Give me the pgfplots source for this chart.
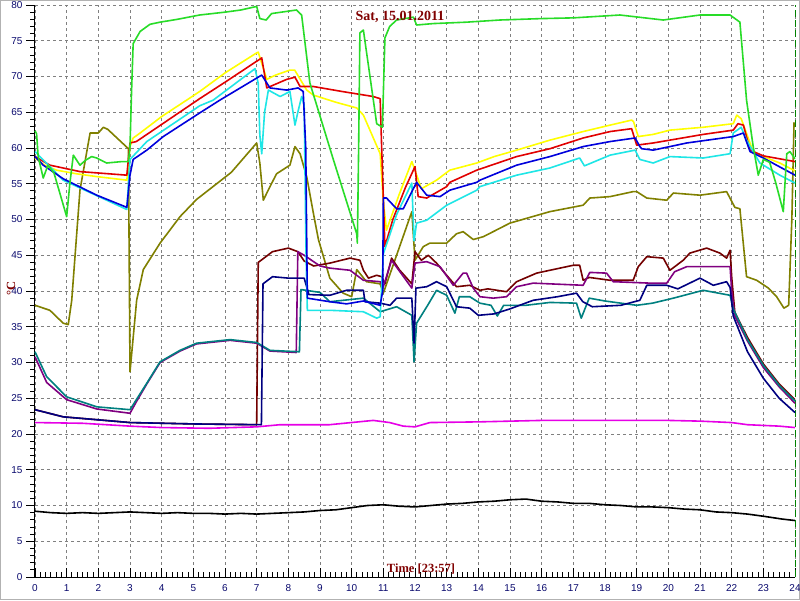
\documentclass[border=0pt]{standalone}
\usepackage{fontspec}
\setmainfont{Liberation Sans}
\newfontfamily\tfont{Liberation Serif}
\usepackage{pgfplots}
\pgfplotsset{compat=1.18}
\definecolor{cLime}{RGB}{40,220,40}
\definecolor{cYellow}{RGB}{255,255,0}
\definecolor{cRed}{RGB}{225,0,0}
\definecolor{cBlue}{RGB}{0,0,220}
\definecolor{cCyan}{RGB}{30,230,230}
\definecolor{cOlive}{RGB}{128,128,0}
\definecolor{cMaroon}{RGB}{115,0,0}
\definecolor{cPurple}{RGB}{128,0,128}
\definecolor{cNavy}{RGB}{0,0,128}
\definecolor{cTeal}{RGB}{0,128,128}
\definecolor{cMagenta}{RGB}{230,0,230}
\definecolor{darkred}{RGB}{128,0,0}
\definecolor{tickblue}{RGB}{10,10,110}
\definecolor{dgreen}{RGB}{0,128,0}
\begin{document}
\begin{tikzpicture}
\fill[white] (0,0) rectangle (800pt,600pt);
\useasboundingbox (0,0) rectangle (800pt,600pt);
\draw[gray!60, line width=1pt] (0.5pt,0.5pt) rectangle (799.5pt,599.5pt);
\begin{axis}[
  at={(35pt,23pt)}, anchor=south west,
  scale only axis, width=760pt, height=572pt,
  xmin=0, xmax=24, ymin=0, ymax=80,
  axis x line=bottom, axis y line=left,
  axis line style={-, black, line width=1pt},
  xtick distance=1, ytick distance=5,
  minor x tick num=5, minor y tick num=4,
  xtick align=inside, ytick align=outside,
  major tick length=9pt, minor tick length=5pt,
  tick style={black, line width=0.9pt},
  grid=major,
  major grid style={dash pattern=on 3pt off 3pt, gray, line width=0.8pt},
  tick label style={font=\fontsize{10}{12}\selectfont, text=tickblue},
  xticklabel style={yshift=-4pt},
  /pgf/number format/assume math mode=true,
  clip=false,
  every axis plot/.append style={line width=1.6pt, line join=round, mark=none},
]
% dashed current-time marker
\addplot[dgreen, line width=1pt, dash pattern=on 7pt off 3pt] coordinates {(24,0) (24,80)};
% magenta
\addplot[cMagenta] coordinates {(0,21.6) (1.5,21.5) (3.0,21.1) (4.0,20.9) (5.5,20.8) (7.0,21.0) (7.74,21.3) (9.3,21.3) (10.68,21.9) (11.2,21.6) (11.63,21.1) (12.0,21.0) (12.47,21.6) (14.05,21.7) (16,21.9) (18,21.9) (20,21.9) (21,21.8) (22,21.6) (22.5,21.3) (23.5,21.1) (24,20.9)};
% black
\addplot[black] coordinates {(0,9.2) (0.5,9.0) (1,8.9) (1.5,9.0) (2,8.9) (2.5,9.0) (3,9.1) (3.5,9.0) (4,8.9) (4.5,9.0) (5,8.9) (5.5,8.9) (6,8.8) (6.5,8.9) (7,8.8) (7.5,8.9) (8,9.0) (8.5,9.1) (9,9.3) (9.5,9.4) (10,9.7) (10.5,10.0) (11,10.1) (11.5,9.9) (12,9.8) (12.5,10.0) (13,10.2) (13.5,10.3) (14,10.5) (14.5,10.6) (15,10.8) (15.5,10.9) (16,10.6) (16.5,10.5) (17,10.3) (17.5,10.3) (18,10.1) (18.5,10.0) (19,9.8) (19.5,9.8) (20,9.7) (20.5,9.5) (21,9.4) (21.5,9.1) (22,9.0) (22.5,8.8) (23,8.5) (23.3,8.3) (23.6,8.1) (24,7.9)};
% olive
\addplot[cOlive] coordinates {(0,38.0) (0.47,37.3) (0.89,35.5) (1.05,35.3) (1.16,38.7) (1.42,54.1) (1.74,62.1) (2.0,62.1) (2.16,62.9) (2.3,62.6) (2.95,59.9) (3.0,28.7) (3.21,38.7) (3.42,43.0) (3.95,46.7) (4.58,50.4) (5.1,52.8) (6.2,56.6) (7.0,60.7) (7.1,57.9) (7.21,52.7) (7.42,54.6) (7.63,56.4) (8.05,57.6) (8.21,60.2) (8.37,59.2) (8.58,56.0) (8.79,50.9) (8.95,47.2) (9.31,41.8) (9.73,39.7) (10.0,39.2) (10.16,43.0) (10.47,41.3) (10.9,41.0) (11.0,39.7) (11.9,51.1) (12.0,44.3) (12.26,46.2) (12.47,46.7) (13.0,46.7) (13.31,48.0) (13.52,48.3) (13.84,47.2) (14.16,47.6) (15.0,49.5) (16.26,51.1) (17.31,52.0) (17.52,53.0) (18.16,53.2) (18.89,53.9) (19.0,53.9) (19.32,53.0) (19.95,52.7) (20.16,53.7) (21.0,53.4) (21.84,53.9) (22.1,51.7) (22.26,51.5) (22.47,42.0) (22.79,41.5) (23.16,40.4) (23.42,39.2) (23.65,37.6) (23.8,38.0) (23.9,50) (23.97,63.6)};
% maroon
\addplot[cMaroon] coordinates {(0,23.4) (0.89,22.4) (1.95,22.0) (3.0,21.6) (5.1,21.4) (7.0,21.3) (7.05,44.0) (7.5,45.5) (8.0,46.0) (8.3,45.5) (8.5,44.2) (8.8,43.5) (9.31,43.9) (9.95,44.6) (10.26,44.3) (10.37,42.9) (10.53,41.8) (10.79,42.2) (10.95,42.0) (11.05,41.0) (11.26,44.6) (11.5,43.0) (11.9,41.0) (12.0,45.5) (12.2,44.3) (12.42,45.0) (12.68,43.9) (13.0,42.2) (13.31,40.6) (13.73,40.8) (14.05,40.1) (14.3,40.3) (14.89,39.9) (15.21,41.3) (15.84,42.5) (16.26,42.9) (17.0,43.6) (17.2,43.6) (17.31,41.5) (17.5,41.9) (18.16,41.5) (18.89,41.5) (19.05,43.4) (19.32,44.8) (19.84,44.6) (20.05,42.9) (20.47,44.3) (20.68,45.3) (21.21,46.0) (21.63,45.3) (21.84,44.6) (21.95,45.7) (22.0,42.0) (22.1,37.0) (22.5,33.5) (23.0,29.8) (23.5,27.0) (24,24.8)};
% purple
\addplot[cPurple] coordinates {(0,30.8) (0.37,27.2) (1.0,24.8) (1.95,23.5) (3.0,22.9) (3.2,24.5) (3.53,27.0) (3.95,30.0) (4.58,31.6) (5.1,32.6) (6.16,33.1) (7.0,32.7) (7.42,31.6) (8.25,31.4) (8.3,45.5) (8.5,45.0) (9.0,43.5) (9.31,43.2) (9.95,42.9) (10.37,41.5) (10.9,41.3) (11.0,40.6) (11.26,44.3) (11.9,40.4) (12.0,43.9) (12.37,44.1) (12.79,43.4) (13.21,40.8) (13.52,42.5) (13.63,42.5) (13.84,40.4) (14.05,39.2) (14.47,39.0) (14.89,39.2) (15.21,40.6) (15.73,41.1) (17.31,40.8) (17.52,42.6) (18.05,42.5) (18.26,41.3) (19.42,41.1) (19.95,41.1) (20.2,42.7) (20.58,43.4) (21.95,43.4) (22.0,40.0) (22.1,36.5) (22.5,33.0) (23.0,29.3) (23.5,26.6) (24,24.3)};
% teal
\addplot[cTeal] coordinates {(0,31.5) (0.37,28.0) (1.0,25.2) (1.95,23.8) (3.0,23.4) (3.53,27.1) (3.95,30.1) (4.58,31.7) (5.1,32.7) (6.16,33.2) (7.0,32.8) (7.42,31.7) (8.35,31.5) (8.4,40.2) (9.0,39.8) (9.31,38.5) (10.37,39.0) (10.9,37.1) (11.42,37.8) (11.9,36.6) (11.97,30.1) (12.05,35.5) (12.4,38.0) (12.68,40.1) (13.0,39.4) (13.26,36.9) (13.4,39.2) (13.73,39.2) (14.05,38.3) (14.4,38.0) (14.6,36.5) (14.8,38.0) (15.5,38.0) (16.26,38.4) (17.1,38.3) (17.25,36.2) (17.5,39.0) (18.0,38.6) (19.0,38.0) (19.5,38.3) (20.16,39.0) (21.1,40.1) (21.95,39.4) (22.05,37.5) (22.5,33.2) (23.0,29.6) (23.5,26.8) (24,24.6)};
% navy
\addplot[cNavy] coordinates {(0,23.4) (0.89,22.4) (1.95,22.0) (3.0,21.6) (5.1,21.4) (7.15,21.3) (7.2,41.0) (7.5,42.0) (8.0,41.8) (8.5,41.8) (8.65,39.5) (9.31,39.4) (9.84,40.1) (10.37,40.1) (10.42,38.5) (10.9,38.3) (11.21,38.0) (11.42,39.0) (11.9,39.0) (11.97,32.7) (12.03,40.4) (12.37,40.6) (12.68,41.3) (13.0,40.6) (13.31,37.8) (13.73,37.6) (14.0,36.6) (14.5,36.8) (15.0,37.5) (15.73,38.7) (16.5,39.2) (17.1,39.7) (17.3,38.5) (17.6,37.8) (18.5,38.0) (19.1,38.7) (19.32,40.8) (19.95,40.8) (20.3,40.3) (21.0,41.8) (21.42,40.8) (21.84,41.3) (21.95,40.5) (22.05,36.5) (22.5,31.5) (23.0,27.8) (23.5,25.0) (24,23.0)};
% yellow
\addplot[cYellow] coordinates {(0,58.6) (0.3,57.6) (0.68,56.9) (1.3,56.4) (1.95,56.0) (2.9,55.5) (3.0,60.2) (3.1,61.4) (3.32,62.1) (4.0,64.4) (4.79,66.7) (5.2,67.9) (6.0,70.5) (7.0,73.3) (7.05,73.4) (7.32,69.6) (7.6,70.2) (8.05,70.9) (8.2,70.9) (8.58,68.1) (8.79,67.4) (9.5,66.4) (10.16,65.6) (10.37,64.6) (10.9,59.2) (11.0,52.5) (11.1,48.5) (11.5,53.5) (11.9,58.1) (12.0,56.9) (12.2,54.3) (12.68,55.5) (13.1,56.9) (13.95,57.9) (14.5,58.8) (15.21,59.7) (16.26,61.1) (17.31,62.3) (18.16,63.2) (18.84,63.9) (18.9,63.7) (19.05,61.6) (19.52,61.9) (20.05,62.5) (21.1,62.9) (22.05,63.4) (22.16,64.6) (22.3,64.1) (22.68,59.5) (23.0,58.8) (23.52,57.9) (24,56.8)};
% red
\addplot[cRed] coordinates {(0,58.8) (0.47,57.6) (1.42,56.7) (2.9,56.2) (3.0,60.7) (3.2,60.9) (4.0,63.3) (5.2,66.9) (6.0,69.2) (7.16,72.6) (7.32,68.4) (7.95,69.6) (8.21,69.9) (8.37,68.6) (8.79,68.6) (9.7,67.9) (10.68,67.2) (10.9,66.9) (10.95,59.7) (11.05,46.2) (11.3,50.0) (11.7,54.5) (12.0,57.4) (12.1,53.2) (12.37,53.0) (13.0,54.6) (13.1,55.2) (13.95,56.9) (15.21,58.8) (16.26,59.9) (17.31,61.4) (18.16,62.3) (18.84,62.7) (19.0,60.4) (19.52,60.7) (21.1,61.9) (22.05,62.5) (22.2,63.4) (22.37,63.2) (22.58,59.7) (23.0,58.9) (23.5,58.5) (24,58.1)};
% cyan
\addplot[cCyan] coordinates {(0,59.5) (0.89,55.5) (2.9,51.4) (3.0,58.4) (3.53,60.9) (5.2,65.9) (5.63,66.7) (6.95,71.1) (7.05,69.0) (7.1,61.8) (7.16,59.2) (7.25,65.0) (7.37,68.1) (7.74,67.2) (8.05,67.9) (8.21,63.2) (8.3,65.0) (8.42,67.2) (8.5,66.0) (8.56,45.0) (8.6,37.3) (9.31,37.3) (10.37,37.1) (10.79,36.2) (10.9,36.4) (11.0,45.2) (11.42,50.7) (11.9,55.1) (11.97,47.0) (12.05,49.5) (12.37,49.9) (13.0,52.0) (13.95,54.1) (14.05,54.6) (15.21,56.2) (16.26,57.2) (17.2,58.6) (17.35,57.5) (18.16,59.0) (18.95,59.7) (19.1,58.4) (19.52,57.9) (20.05,58.8) (21.1,58.6) (21.95,59.2) (22.05,62.1) (22.3,62.9) (22.47,61.1) (22.89,57.9) (23.52,56.2) (24,55.1)};
% blue
\addplot[cBlue] coordinates {(0,58.8) (0.26,57.6) (0.89,55.7) (1.95,53.4) (2.9,51.7) (3.0,56.2) (3.1,58.4) (3.53,59.7) (4.05,61.6) (5.2,64.9) (5.84,66.7) (7.16,70.2) (7.42,68.4) (7.95,68.1) (8.31,68.4) (8.47,67.9) (8.55,60.0) (8.6,39.0) (9.31,38.5) (9.84,38.2) (10.37,38.6) (10.9,38.0) (10.98,40.0) (11.0,53.0) (11.1,53.0) (11.42,51.5) (11.63,51.5) (12.05,55.2) (12.37,53.4) (12.79,53.2) (13.1,54.1) (13.95,55.2) (14.05,55.5) (15.21,57.6) (16.26,58.8) (17.31,60.2) (18.16,60.9) (18.95,61.4) (19.1,60.2) (19.16,59.9) (19.52,59.7) (20.58,60.7) (22.05,61.6) (22.37,62.1) (22.58,59.5) (23.0,58.6) (24,56.2)};
% lime
\addplot[cLime] coordinates {(0,62.4) (0.05,62.0) (0.1,58.8) (0.26,55.8) (0.41,57.6) (0.6,56.5) (1.0,50.4) (1.1,55.0) (1.21,59.0) (1.42,57.6) (1.6,58.3) (1.79,58.8) (1.95,58.6) (2.26,57.9) (2.5,58.0) (2.74,58.1) (2.95,58.1) (3.0,60.2) (3.05,68.0) (3.1,74.6) (3.32,76.3) (3.63,77.3) (3.95,77.6) (4.5,78.0) (5.2,78.6) (6.0,79.0) (6.5,79.3) (7.0,79.8) (7.1,78.1) (7.3,77.9) (7.47,78.8) (8.26,79.3) (8.42,78.6) (8.68,69.1) (9.42,58.4) (10.16,48.0) (10.18,46.7) (10.22,60.0) (10.26,76.1) (10.37,76.5) (10.79,63.4) (10.97,62.9) (11.05,75.4) (11.2,77.0) (11.42,77.9) (11.95,78.3) (12.05,77.2) (12.57,77.4) (13.63,77.6) (14.68,77.9) (16,78.1) (17,78.2) (18.47,78.6) (19.84,77.9) (21.0,78.6) (21.95,78.6) (22.26,77.6) (22.47,66.7) (22.68,60.2) (22.84,56.2) (23.0,58.4) (23.2,58.0) (23.4,55.0) (23.63,51.1) (23.74,59.2) (23.84,59.5) (23.95,58.8) (24,58.5)};
\end{axis}
\node[font=\tfont\bfseries\fontsize{14}{16}\selectfont, text=darkred] at (400pt,583pt) {Sat, 15.01.2011};
\node[font=\tfont\bfseries\fontsize{12.5}{14}\selectfont, text=darkred] at (421pt,31pt) {Time [23:57]};
\node[font=\tfont\bfseries\fontsize{12.5}{14}\selectfont, text=darkred, rotate=90] at (11pt,312pt) {°C};
\end{tikzpicture}
\end{document}
